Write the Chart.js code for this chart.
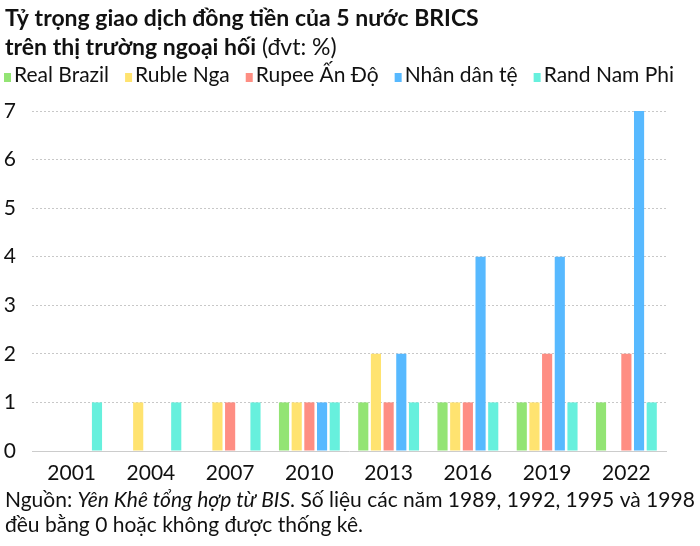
<!DOCTYPE html>
<html>
<head>
<meta charset="utf-8">
<script src="https://cdn.jsdelivr.net/npm/chart.js@4"></script>
<style>
html,body{margin:0;padding:0;background:#fff;}
#wrap{position:relative;width:700px;height:546px;}
canvas{display:block;}
</style>
</head>
<body>
<div id="wrap"><canvas id="c" width="700" height="546"></canvas></div>
<script>
const years = ["2001","2004","2007","2010","2013","2016","2019","2022"];
const seriesNames = ["Real Brazil","Ruble Nga","Rupee Ấn Độ","Nhân dân tệ","Rand Nam Phi"];
const realBrazil = [0,0,0,1,1,1,1,1];
const rubleNga   = [0,1,1,1,2,1,1,0];
const rupeeAnDo  = [0,0,1,1,1,1,2,2];
const nhanDanTe  = [0,0,0,1,2,4,4,7];
const randNamPhi = [1,1,1,1,1,1,1,1];
const yTicks = [0,1,2,3,4,5,6,7];
const colors = ["#93E474","#FFE370","#FE8E83","#57B9FF","#67F0DD"];
const titleLine1 = "Tỷ trọng giao dịch đồng tiền của 5 nước BRICS";
const titleLine2Bold = "trên thị trường ngoại hối";
const titleLine2Normal = " (đvt: %)";
const sourceLabel = "Nguồn: ";
const sourceItalic = "Yên Khê tổng hợp từ BIS";
const sourceRest = ". Số liệu các năm 1989, 1992, 1995 và 1998";
const sourceLine2 = "đều bằng 0 hoặc không được thống kê.";

const FONT = "Lato, 'Noto Sans', sans-serif";
const allSeries = [realBrazil, rubleNga, rupeeAnDo, nhanDanTe, randNamPhi];

const textPlugin = {
  id: 'texts',
  afterDraw(chart) {
    const ctx = chart.ctx;
    ctx.save();
    ctx.fillStyle = '#111';
    ctx.textBaseline = 'alphabetic';
    ctx.textAlign = 'left';
    // Title
    ctx.font = "bold 23px " + FONT;
    ctx.fillText(titleLine1, 5, 26);
    ctx.fillText(titleLine2Bold, 5, 55);
    const w2 = ctx.measureText(titleLine2Bold).width;
    ctx.font = "23px " + FONT;
    ctx.fillText(titleLine2Normal, 5 + w2, 55);
    // Legend
    ctx.font = "21px " + FONT;
    let x = 4;
    chart.data.datasets.forEach((ds) => {
      ctx.fillStyle = ds.backgroundColor;
      ctx.fillRect(x, 73, 7, 9);
      ctx.fillStyle = '#111';
      ctx.fillText(ds.label, x + 10, 82);
      x += 10 + ctx.measureText(ds.label).width + 16;
    });
    // Footer
    ctx.fillStyle = '#111';
    ctx.font = "21px " + FONT;
    let fx = 5;
    ctx.fillText(sourceLabel, fx, 507);
    fx += ctx.measureText(sourceLabel).width;
    ctx.font = "italic 21px " + FONT;
    ctx.fillText(sourceItalic, fx, 507);
    fx += ctx.measureText(sourceItalic).width;
    ctx.font = "21px " + FONT;
    ctx.fillText(sourceRest, fx, 507);
    ctx.fillText(sourceLine2, 5, 532);
    ctx.restore();
  }
};

new Chart(document.getElementById('c'), {
  type: 'bar',
  data: {
    labels: years,
    datasets: seriesNames.map((n, i) => ({
      label: n,
      data: allSeries[i],
      backgroundColor: colors[i],
      borderWidth: 0,
      categoryPercentage: 0.8,
      barPercentage: 0.8
    }))
  },
  options: {
    responsive: false,
    animation: false,
    devicePixelRatio: 1,
    layout: { padding: { top: 111, right: 34, bottom: 60, left: 0 } },
    plugins: { legend: { display: false }, title: { display: false }, tooltip: { enabled: false } },
    scales: {
      x: {
        grid: { display: false },
        border: { display: true, color: '#cccccc', width: 1 },
        ticks: { color: '#111', font: { family: FONT, size: 21 }, padding: 2, maxRotation: 0 },
        afterFit(scale) { scale.height = 35; }
      },
      y: {
        min: 0, max: 7,
        afterBuildTicks(scale) { scale.ticks = yTicks.map(v => ({ value: v })); },
        grid: {
          color: (c) => c.tick && c.tick.value === 0 ? 'rgba(0,0,0,0)' : '#c8c8c8',
          lineWidth: 1, drawTicks: false
        },
        border: { display: false, dash: [2, 2] },
        ticks: { color: '#111', font: { family: FONT, size: 21 }, padding: 16 },
        afterFit(scale) { scale.width = 32; }
      }
    }
  },
  plugins: [textPlugin]
});
</script>
</body>
</html>
